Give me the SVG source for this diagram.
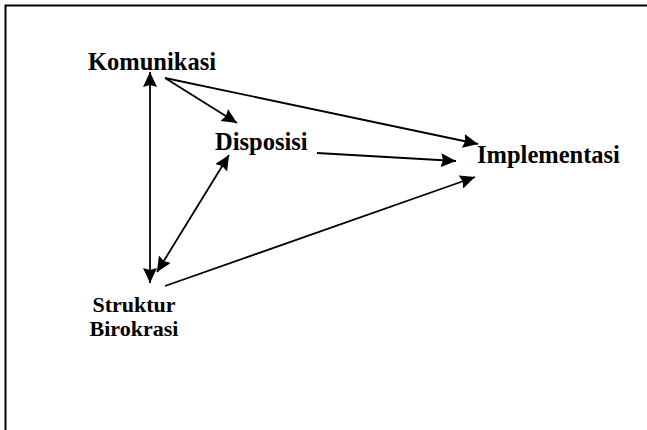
<svg xmlns="http://www.w3.org/2000/svg" width="647" height="430" viewBox="0 0 647 430">
<style>
.lbl{font-family:"Liberation Serif","Times New Roman",serif;font-weight:bold;fill:#000}
.big{font-size:24.5px}
.sm{font-size:22px}
.c{fill:none;stroke:#000;stroke-width:1.8}
</style>
<defs>
<marker id="ah" markerUnits="userSpaceOnUse" markerWidth="16" markerHeight="14" viewBox="0 0 16 14" refX="15" refY="7" orient="auto-start-reverse">
<path d="M0,0 L15,7 L0,14 L2,7 z" fill="#000"/>
</marker>
</defs>
<rect width="647" height="430" fill="#fff"/>
<path d="M5.5,430 V5.5 H647" fill="none" stroke="#000" stroke-width="2"/>
<g id="connectors">
<line class="c" x1="150" y1="72" x2="150" y2="283" marker-start="url(#ah)" marker-end="url(#ah)"/>
<line class="c" x1="165" y1="78" x2="237" y2="123" marker-end="url(#ah)"/>
<line class="c" x1="165" y1="78" x2="478" y2="144" marker-end="url(#ah)"/>
<line class="c" x1="317" y1="153" x2="456" y2="161" marker-end="url(#ah)"/>
<line class="c" x1="165" y1="286" x2="475" y2="177" marker-end="url(#ah)"/>
<line class="c" x1="229" y1="155" x2="157" y2="272" marker-start="url(#ah)" marker-end="url(#ah)"/>
</g>
<g id="komunikasi"><text class="lbl big" x="88" y="70">Komunikasi</text></g>
<g id="disposisi"><text class="lbl big" x="215" y="150">Disposisi</text></g>
<g id="implementasi"><text class="lbl big" x="477" y="163">Implementasi</text></g>
<g id="struktur-birokrasi"><text class="lbl sm" text-anchor="middle" x="134" y="312">Struktur</text><text class="lbl sm" text-anchor="middle" x="134" y="336">Birokrasi</text></g>
</svg>
